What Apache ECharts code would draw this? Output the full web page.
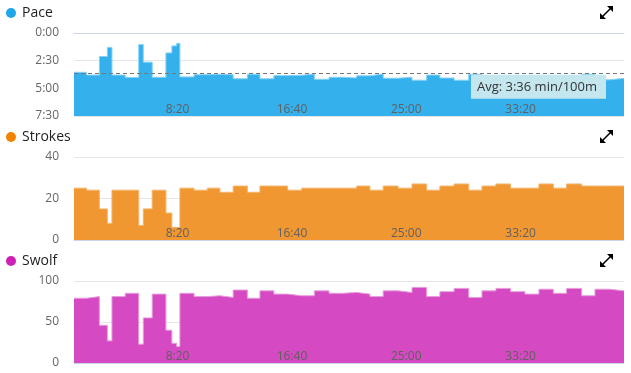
<!DOCTYPE html>
<html>
<head>
<meta charset="utf-8">
<script src="https://cdn.jsdelivr.net/npm/echarts@6/dist/echarts.min.js"></script>
<style>
html,body{margin:0;padding:0;background:#fff;}
#chart{width:631px;height:373px;}
</style>
</head>
<body>
<div id="chart"></div>
<script>
// Lap boundaries in seconds (start of each length, plus final end)
const lapTimes = [47, 102, 158, 193, 213, 271, 330, 350, 389, 449, 475, 496, 510, 572, 630, 685, 743, 805, 860, 921, 981, 1043, 1098, 1162, 1222, 1283, 1341, 1399, 1464, 1525, 1589, 1647, 1709, 1773, 1831, 1892, 1956, 2019, 2080, 2143, 2201, 2267, 2325, 2388, 2452];
// Pace in seconds per 100m
const paceValues = [213, 228, 127, 78, 228, 241, 63, 158, 240, 108, 70, 56, 238, 226, 224, 226, 248, 224, 248, 231, 229, 222, 251, 240, 244, 232, 222, 245, 240, 256, 228, 244, 256, 224, 248, 256, 248, 236, 252, 240, 256, 224, 254, 246];
const strokeValues = [25, 24, 15, 8, 24, 24, 7, 15, 24, 13, 6, 6, 25, 24, 25, 23, 26, 23, 26, 26, 24, 25, 25, 25, 25, 26, 24, 26, 25, 27, 24, 26, 27, 24, 26, 27, 25, 25, 27, 25, 27, 26, 26, 26];
const swolfValues = [79, 81, 46, 27, 81, 85, 23, 55, 84, 40, 24, 20, 85, 81, 82, 80, 89, 79, 88, 84, 82, 82, 88, 85, 86, 84, 81, 88, 86, 92, 81, 87, 91, 80, 88, 91, 87, 84, 90, 85, 91, 82, 90, 88];
const timeTickValues = [500, 1000, 1500, 2000];
const avgPace = 216;
const avgLabel = 'Avg: 3:36 min/100m';

function mmss(s) {
  s = Math.round(s);
  return Math.floor(s / 60) + ':' + String(s % 60).padStart(2, '0');
}
function toPoints(vals) {
  const pts = vals.map((v, i) => [lapTimes[i], v]);
  pts.push([lapTimes[vals.length], vals[vals.length - 1]]);
  return pts;
}

const grids = [
  {left: 74, right: 7, top: 33, height: 83},
  {left: 74, right: 7, top: 157, height: 83},
  {left: 74, right: 7, top: 281, height: 82}
];
const labelColor = '#666666';
const font = 'Open Sans';

function xAxis(i) {
  return {
    type: 'value', gridIndex: i, min: lapTimes[0], max: lapTimes[lapTimes.length - 1],
    axisLine: {show: true, lineStyle: {color: '#ccd6eb', width: 1}},
    axisTick: {show: false},
    splitLine: {show: false},
    axisLabel: {
      inside: true, margin: 0, customValues: timeTickValues,
      formatter: v => mmss(v), color: '#606060', fontSize: 12, fontFamily: font
    },
    z: 5
  };
}
function yAxis(i, min, max, interval, extra) {
  return Object.assign({
    type: 'value', gridIndex: i, min: min, max: max, interval: interval,
    axisLine: {show: false}, axisTick: {show: false},
    splitLine: {show: true, lineStyle: {color: '#e6e6e6', width: 1}},
    axisLabel: {color: labelColor, fontSize: 12, fontFamily: font, margin: 15}
  }, extra || {});
}

function expandIcon(x, y) {
  return {
    type: 'group', x: x, y: y, silent: true,
    children: [
      {type: 'polygon', shape: {points: [[7, 0], [13, 0], [13, 6]]}, style: {fill: '#000'}},
      {type: 'polygon', shape: {points: [[0, 7], [0, 13], [6, 13]]}, style: {fill: '#000'}},
      {type: 'line', shape: {x1: 2.5, y1: 10.5, x2: 10.5, y2: 2.5}, style: {stroke: '#000', lineWidth: 1.6}}
    ]
  };
}

const legendBase = {
  icon: 'circle', itemWidth: 10, itemHeight: 10, left: 6, padding: 0, itemGap: 0,
  textStyle: {color: '#222', fontSize: 14, fontFamily: font, padding: [0, 0, 0, 1]},
  selectedMode: false
};

const option = {
  animation: false,
  backgroundColor: '#ffffff',
  grid: grids,
  legend: [
    Object.assign({}, legendBase, {top: 6, data: ['Pace']}),
    Object.assign({}, legendBase, {top: 130, data: ['Strokes']}),
    Object.assign({}, legendBase, {top: 254, data: ['Swolf']})
  ],
  xAxis: [xAxis(0), xAxis(1), xAxis(2)],
  yAxis: [
    yAxis(0, 0, 450, 150, {inverse: true, axisLabel: {color: labelColor, fontSize: 12, fontFamily: font, margin: 15, formatter: v => mmss(v)}}),
    yAxis(1, 0, 40, 20),
    yAxis(2, 0, 100, 50)
  ],
  graphic: [expandIcon(600, 6), expandIcon(600, 130), expandIcon(600, 254)],
  series: [
    {
      name: 'Pace', type: 'line', step: 'end', xAxisIndex: 0, yAxisIndex: 0,
      data: toPoints(paceValues), symbol: 'none', color: '#1ea7ea',
      lineStyle: {color: '#86d2f5', width: 1},
      areaStyle: {origin: 'end', color: '#1ea9ea', opacity: 0.9},
      markLine: {
        silent: true, symbol: 'none',
        lineStyle: {color: '#777', type: [4, 3], width: 1},
        label: {
          show: true, position: 'insideEndBottom', formatter: avgLabel,
          color: '#333', fontSize: 13, fontFamily: font,
          backgroundColor: '#c4e6ef', padding: [6, 9, 5, 6], distance: [18, 2]
        },
        data: [{yAxis: avgPace}]
      },
      z: 2
    },
    {
      name: 'Strokes', type: 'line', step: 'end', xAxisIndex: 1, yAxisIndex: 1,
      data: toPoints(strokeValues), symbol: 'none', color: '#f08300',
      lineStyle: {color: '#f5b46c', width: 1},
      areaStyle: {color: '#ee8c1c', opacity: 0.9},
      z: 2
    },
    {
      name: 'Swolf', type: 'line', step: 'end', xAxisIndex: 2, yAxisIndex: 2,
      data: toPoints(swolfValues), symbol: 'none', color: '#d01fb4',
      lineStyle: {color: '#e79ddc', width: 1},
      areaStyle: {color: '#d035bc', opacity: 0.9},
      z: 2
    }
  ]
};

const chart = echarts.init(document.getElementById('chart'), null, {renderer: 'canvas'});
chart.setOption(option);
</script>
</body>
</html>
